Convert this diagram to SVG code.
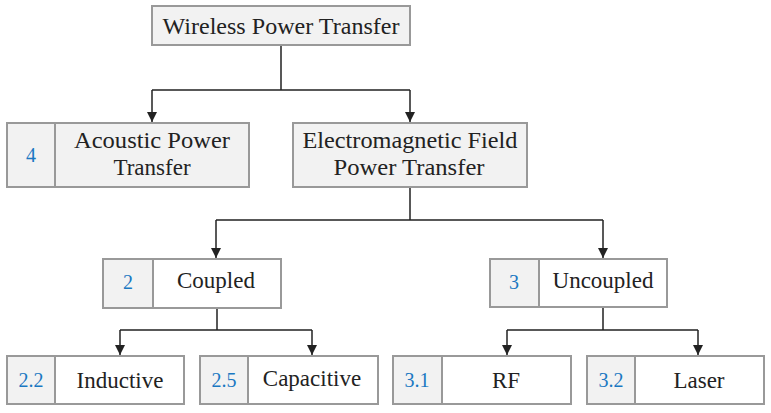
<svg xmlns="http://www.w3.org/2000/svg" width="771" height="413" viewBox="0 0 771 413">
<defs>
<marker id="arr" viewBox="0 0 10 10" refX="10" refY="5" markerWidth="10" markerHeight="10" markerUnits="userSpaceOnUse" orient="auto">
<path d="M0,0 L10,5 L0,10 z" fill="#222"/>
</marker>
<style>
.box{stroke:#999;stroke-width:2}
.g{fill:#f2f2f2}
.w{fill:#fff}
.lbl{font-family:"Times New Roman","Liberation Serif",serif;font-size:23px;fill:#222;text-anchor:middle}
.num{font-family:"Times New Roman","Liberation Serif",serif;font-size:20px;fill:#1a78c2;text-anchor:middle}
.c{fill:none;stroke:#222;stroke-width:1.5}
</style>
</defs>
<rect width="771" height="413" fill="#fff"/>
<g id="connectors">
<path class="c" d="M281,45 V90 M152,90 H410"/>
<path class="c" d="M152,90 V122" marker-end="url(#arr)"/>
<path class="c" d="M410,90 V122" marker-end="url(#arr)"/>
<path class="c" d="M410,187 V220 M216,220 H603"/>
<path class="c" d="M216,220 V258" marker-end="url(#arr)"/>
<path class="c" d="M603,220 V258" marker-end="url(#arr)"/>
<path class="c" d="M217,308 V330 M120,330 H312"/>
<path class="c" d="M120,330 V355" marker-end="url(#arr)"/>
<path class="c" d="M312,330 V355" marker-end="url(#arr)"/>
<path class="c" d="M603,307 V330 M507,330 H698"/>
<path class="c" d="M507,330 V355" marker-end="url(#arr)"/>
<path class="c" d="M698,330 V355" marker-end="url(#arr)"/>
</g>
<g id="wpt">
<rect class="box g" x="152" y="6" width="258" height="39"/>
<text class="lbl" x="281" y="34" textLength="237" lengthAdjust="spacingAndGlyphs">Wireless Power Transfer</text>
</g>
<g id="acoustic">
<rect class="box g" x="7" y="123" width="242" height="64"/>
<line class="box" x1="55" y1="123" x2="55" y2="187"/>
<text class="num" x="31" y="162">4</text>
<text class="lbl" x="152" y="148" textLength="156" lengthAdjust="spacingAndGlyphs">Acoustic Power</text>
<text class="lbl" x="152" y="175">Transfer</text>
</g>
<g id="em">
<rect class="box g" x="293" y="123" width="234" height="64"/>
<text class="lbl" x="410" y="148" textLength="215" lengthAdjust="spacingAndGlyphs">Electromagnetic Field</text>
<text class="lbl" x="409" y="175" textLength="151" lengthAdjust="spacingAndGlyphs">Power Transfer</text>
</g>
<g id="coupled">
<rect class="box w" x="103" y="259" width="178" height="49"/>
<rect class="box g" x="103" y="259" width="50" height="49"/>
<text class="num" x="128" y="289">2</text>
<text class="lbl" x="216" y="288">Coupled</text>
</g>
<g id="uncoupled">
<rect class="box w" x="490" y="259" width="177" height="48"/>
<rect class="box g" x="490" y="259" width="49" height="48"/>
<text class="num" x="514" y="289">3</text>
<text class="lbl" x="603" y="288">Uncoupled</text>
</g>
<g id="inductive">
<rect class="box w" x="7" y="356" width="177" height="48"/>
<rect class="box g" x="7" y="356" width="48" height="48"/>
<text class="num" x="31" y="387">2.2</text>
<text class="lbl" x="120" y="388">Inductive</text>
</g>
<g id="capacitive">
<rect class="box w" x="200" y="356" width="178" height="48"/>
<rect class="box g" x="200" y="356" width="48" height="48"/>
<text class="num" x="224" y="387">2.5</text>
<text class="lbl" x="312" y="386">Capacitive</text>
</g>
<g id="rf">
<rect class="box w" x="393" y="356" width="178" height="48"/>
<rect class="box g" x="393" y="356" width="49" height="48"/>
<text class="num" x="417" y="387">3.1</text>
<text class="lbl" x="506" y="388">RF</text>
</g>
<g id="laser">
<rect class="box w" x="587" y="356" width="177" height="48"/>
<rect class="box g" x="587" y="356" width="48" height="48"/>
<text class="num" x="611" y="387">3.2</text>
<text class="lbl" x="699" y="388">Laser</text>
</g>
</svg>
